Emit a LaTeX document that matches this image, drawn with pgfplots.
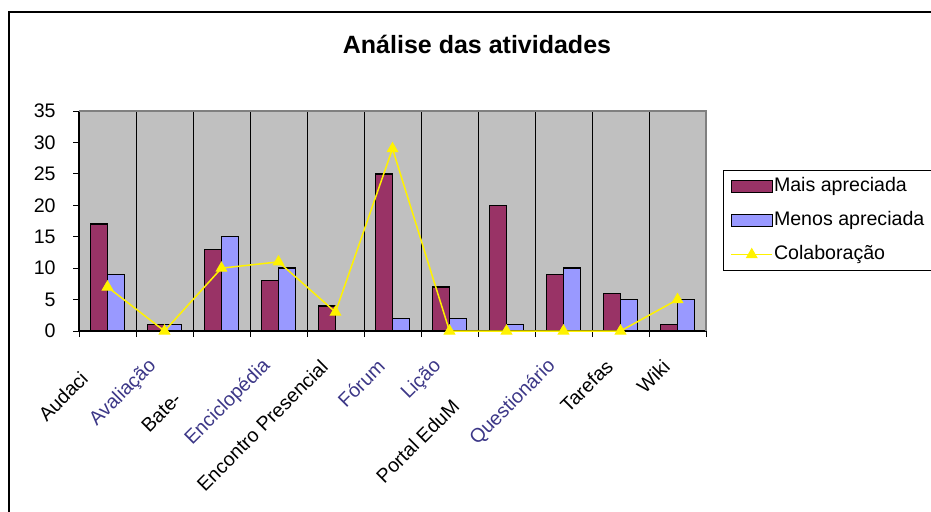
\documentclass[border=0pt]{standalone}
\usepackage{fontspec}
\setmainfont{Liberation Sans}
\usepackage{pgfplots}
\pgfplotsset{compat=1.18}
\definecolor{mais}{RGB}{153,51,102}
\definecolor{menos}{RGB}{153,153,255}
\definecolor{plotbg}{RGB}{192,192,192}
\definecolor{framegray}{RGB}{128,128,128}
\definecolor{lbl}{RGB}{60,55,135}
\newcommand{\tfont}{\fontsize{9.8}{11.5}\selectfont}
\pgfplotsset{
 barleg/.style={legend image code/.code={\draw[##1] (0pt,-3pt) rectangle (20.5pt,3pt);}},
 lineleg/.style={legend image code/.code={\draw[mark repeat=2,mark phase=2,##1] plot coordinates {(0pt,0pt) (10.25pt,0pt) (20.5pt,0pt)};}},
}
\begin{document}
\begin{tikzpicture}
\useasboundingbox (0pt,0pt) rectangle (465.5pt,-255.5pt);
\begin{scope}
\clip (0pt,0pt) rectangle (465.5pt,-255.5pt);
\draw[line width=1pt] (4.5pt,-300pt) -- (4.5pt,-6pt) -- (500pt,-6pt);
\node[font=\fontsize{12.5}{15}\selectfont\bfseries, anchor=base] at (238.5pt,-26.5pt) {Análise das atividades};
\begin{axis}[
 at={(39.5pt,-165.5pt)}, anchor=south west,
 scale only axis, width=313.5pt, height=110pt,
 xmin=0, xmax=11, ymin=0, ymax=35,
 clip=false,
 axis background/.style={fill=plotbg},
 axis lines=left, axis line style={-, line width=0.75pt, black},
 tick align=outside, major tick length=3pt,
 xtick={0,...,11}, xticklabels={},
 x tick style={line width=0.5pt, black},
 xmajorgrids, x grid style={black, line width=0.5pt},
 extra x ticks={0.5,1.5,2.5,3.5,4.5,5.5,6.5,7.5,8.5,9.5,10.5},
 extra x tick labels={Audaci\hspace*{8.5pt},\textcolor{lbl}{Avaliação},Bate-\hspace*{23pt},\textcolor{lbl}{Enciclopédia},Encontro Presencial,\textcolor{lbl}{Fórum},\textcolor{lbl}{Lição},Portal EduM\hspace*{28pt},\textcolor{lbl}{Questionário},Tarefas,Wiki},
 extra x tick style={major tick length=0pt, grid=none},
 xticklabel style={font=\tfont, xshift=-5.5pt, yshift=-16pt, rotate=45, anchor=east, inner sep=0pt},
 ytick={0,5,...,35},
 y tick style={line width=0.5pt, black},
 yticklabel style={font=\tfont, anchor=east, inner sep=0pt, xshift=-8.5pt},
 /pgf/number format/assume math mode=true,
 legend style={at={(1.0271,0.7318)}, anchor=north west, draw=black, line width=0.5pt, fill=white, font=\tfont, inner xsep=3.5pt, inner ysep=3pt, row sep=6.8pt, nodes={inner sep=0.5pt, text height=7.2pt, text depth=2pt}},
 legend cell align=left,
]
\addplot[ybar, bar width=0.3, bar shift=0pt, fill=mais, draw=black, line width=0.75pt, barleg]
 coordinates {(0.35,17) (1.35,1) (2.35,13) (3.35,8) (4.35,4) (5.35,25) (6.35,7) (7.35,20) (8.35,9) (9.35,6) (10.35,1)};
\addlegendentry{Mais apreciada}
\addplot[ybar, bar width=0.3, bar shift=0pt, fill=menos, draw=black, line width=0.75pt, barleg]
 coordinates {(0.65,9) (1.65,1) (2.65,15) (3.65,10) (5.65,2) (6.65,2) (7.65,1) (8.65,10) (9.65,5) (10.65,5)};
\addlegendentry{Menos apreciada}
\addplot[yellow, line width=0.75pt, mark=triangle*, mark size=3pt, mark options={fill=yellow, draw=yellow, line width=0.5pt}, lineleg]
 coordinates {(0.5,7) (1.5,0) (2.5,10) (3.5,11) (4.5,3) (5.5,29) (6.5,0) (7.5,0) (8.5,0) (9.5,0) (10.5,5)};
\addlegendentry{Colaboração}
\draw[framegray, line width=1pt] (rel axis cs:0,1) -- (rel axis cs:1,1) -- (rel axis cs:1,0);
\end{axis}
\end{scope}
\end{tikzpicture}
\end{document}
